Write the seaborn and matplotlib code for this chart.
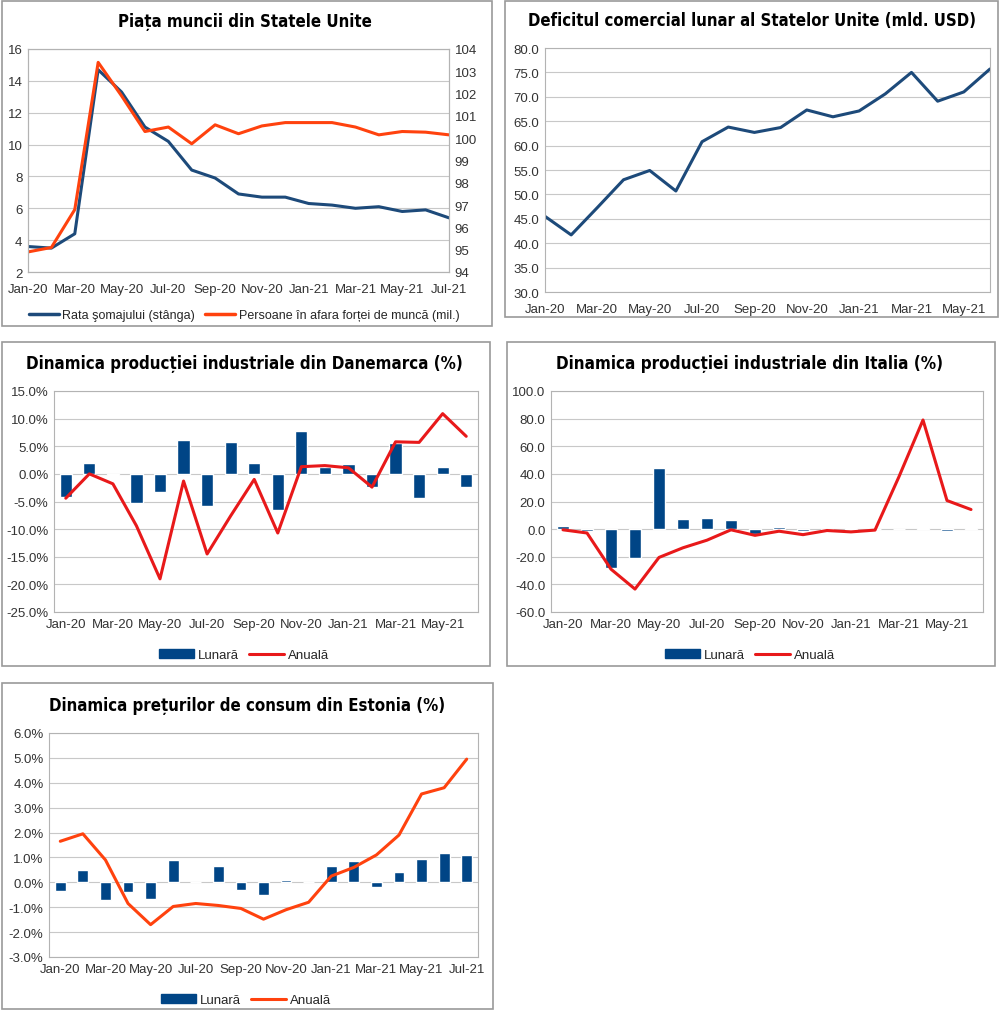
"""
Five small economic charts (US labour market, US trade deficit, industrial
production in Denmark and Italy, consumer prices in Estonia).
"""

import matplotlib

matplotlib.use("Agg")
import matplotlib.pyplot as plt
import numpy as np
import pandas as pd
import seaborn as sns
from matplotlib.lines import Line2D
from matplotlib.patches import Patch, Rectangle
from matplotlib.ticker import FuncFormatter, MultipleLocator

# ---- data -----------------------------------------------------------------
months_19 = ["Jan-20", "Feb-20", "Mar-20", "Apr-20", "May-20", "Jun-20", "Jul-20",
             "Aug-20", "Sep-20", "Oct-20", "Nov-20", "Dec-20", "Jan-21", "Feb-21",
             "Mar-21", "Apr-21", "May-21", "Jun-21", "Jul-21"]
months_18 = months_19[:18]

# US labour market
us_unemployment = [3.6, 3.5, 4.4, 14.7, 13.3, 11.1, 10.2, 8.4, 7.9, 6.9, 6.7, 6.7,
                   6.3, 6.2, 6.0, 6.1, 5.8, 5.9, 5.4]
us_not_in_labor = [94.9, 95.1, 96.8, 103.4, 101.9, 100.3, 100.5, 99.75, 100.6, 100.2,
                   100.55, 100.7, 100.7, 100.7, 100.5, 100.15, 100.3, 100.27, 100.15]

# US trade deficit (bn USD)
us_trade_deficit = [45.5, 41.7, 47.3, 53.0, 54.9, 50.7, 60.8, 63.8, 62.7, 63.7, 67.3,
                    65.9, 67.1, 70.6, 75.0, 69.1, 71.0, 75.7]

# Denmark industrial production (%)
dk_monthly = [-4.1, 2.0, -0.2, -5.2, -3.2, 6.2, -5.9, 5.7, 1.9, -6.6, 7.8, 1.2,
              1.8, -2.4, 5.5, -4.3, 1.2, -2.3]
dk_annual = [-4.4, 0.0, -1.8, -9.4, -19.0, -1.3, -14.5, -7.6, -1.0, -10.7, 1.3, 1.5,
             1.1, -2.4, 5.8, 5.7, 10.9, 6.8]

# Italy industrial production (%)
it_monthly = [2.4, -1.2, -28.0, -21.0, 44.6, 7.5, 8.1, 6.9, -3.5, 1.3, -1.0, -0.3,
              1.0, -0.2, 0.1, 1.0, -1.5, 1.0]
it_annual = [-0.5, -2.8, -29.0, -43.4, -20.5, -13.5, -8.0, -0.5, -4.5, -1.5, -4.0,
             -1.0, -2.0, -0.7, 38.0, 79.0, 20.7, 14.2]

# Estonia consumer prices (%)
ee_monthly = [-0.36, 0.5, -0.7, -0.4, -0.65, 0.9, 0.0, 0.65, -0.3, -0.5, 0.1, 0.02,
              0.65, 0.85, -0.2, 0.4, 0.95, 1.18, 1.1]
ee_annual = [1.65, 1.95, 0.9, -0.85, -1.7, -0.97, -0.85, -0.93, -1.05, -1.48, -1.1,
             -0.8, 0.25, 0.6, 1.1, 1.9, 3.55, 3.8, 4.95]

# ---- style ----------------------------------------------------------------
sns.set_theme(style="white")
plt.rcParams["font.family"] = ["Liberation Sans", "DejaVu Sans"]

NAVY = "#004586"
LINE_BLUE = "#1d4a7a"
ORANGE = "#ff420e"
RED = "#e8191a"
GRID = "#c8c8c8"
FRAME = "#b3b3b3"
TICK_COLOR = "#333333"

fig = plt.figure(figsize=(10, 10.12), dpi=100)

W, H = 1000, 1012


def fig_rect(x0, y0, x1, y1):
    """Pixel box (top-left origin) -> figure fraction [l, b, w, h]."""
    return [x0 / W, 1 - y1 / H, (x1 - x0) / W, (y1 - y0) / H]


def panel_frame(x0, y0, x1, y1):
    fig.patches.append(Rectangle((x0 / W, 1 - y1 / H), (x1 - x0) / W, (y1 - y0) / H,
                                 transform=fig.transFigure, fill=False,
                                 edgecolor="#9a9a9a", lw=1.2))


def panel_title(text, cx, cy, width_px):
    # condensed bold title, shrunk until it fits the width of the original
    t = fig.text(cx / W, 1 - cy / H, text, ha="center", va="center", fontsize=17,
                 fontweight="bold", family="DejaVu Sans", fontstretch="condensed",
                 color="black")
    r = fig.canvas.get_renderer()
    w = t.get_window_extent(r).width
    if w > width_px:
        t.set_fontsize(17 * width_px / w)


def style_axes(ax, ylo, yhi, step):
    ax.set_ylim(ylo, yhi)
    ax.yaxis.set_major_locator(MultipleLocator(step))
    ax.grid(axis="y", color=GRID, lw=0.8)
    ax.grid(axis="x", visible=False)
    ax.set_axisbelow(True)
    for s in ax.spines.values():
        s.set_color(FRAME)
        s.set_linewidth(0.8)
    ax.tick_params(axis="both", labelsize=9.5, colors=TICK_COLOR, length=0, pad=4)
    ax.tick_params(axis="x", length=4, color=FRAME, direction="out")
    ax.set_xlabel("")
    ax.set_ylabel("")


def month_ticks(ax, labels, n_shown):
    pos = np.arange(0, n_shown, 2)
    ax.set_xticks(pos)
    ax.set_xticklabels([labels[i] for i in pos])


def bar_legend(cx, cy, line_color):
    handles = [Patch(facecolor=NAVY, edgecolor=NAVY),
               Line2D([0], [0], color=line_color, lw=2.2)]
    fig.legend(handles, ["Lunară", "Anuală"], loc="center",
               bbox_to_anchor=(cx / W, 1 - cy / H), ncol=2, frameon=False,
               fontsize=9.5, handlelength=2.6, handleheight=0.6, columnspacing=0.8,
               handletextpad=0.3)


def pct(v, _):
    return f"{v:.1f}%"


def one_dec(v, _):
    return f"{v:.1f}"


# ---- panel 1: US labour market -------------------------------------------
panel_frame(2, 2, 492, 327)
panel_title("Piața muncii din Statele Unite", 245, 22, 254)
df1 = pd.DataFrame({"pos": np.arange(19), "rate": us_unemployment,
                    "out": us_not_in_labor})
ax1 = fig.add_axes(fig_rect(28, 50, 449, 273))
sns.lineplot(data=df1, x="pos", y="rate", ax=ax1, color=LINE_BLUE, lw=2.2)
style_axes(ax1, 2, 16, 2)
ax1.set_xlim(0, 18)
month_ticks(ax1, months_19, 19)
ax1b = ax1.twinx()
sns.lineplot(data=df1, x="pos", y="out", ax=ax1b, color=ORANGE, lw=2.2)
ax1b.set_ylim(94, 104)
ax1b.yaxis.set_major_locator(MultipleLocator(1))
ax1b.tick_params(axis="y", labelsize=9.5, colors=TICK_COLOR, length=0, pad=4)
ax1b.set_ylabel("")
for s in ax1b.spines.values():
    s.set_color(FRAME)
    s.set_linewidth(0.8)
fig.legend([Line2D([0], [0], color=LINE_BLUE, lw=2.5), Line2D([0], [0], color=ORANGE, lw=2.5)],
           ["Rata şomajului (stânga)", "Persoane în afara forței de muncă (mil.)"],
           loc="center", bbox_to_anchor=(244 / W, 1 - 316 / H), ncol=2, frameon=False,
           fontsize=9, handlelength=2.4, columnspacing=0.8, handletextpad=0.3)

# ---- panel 2: US trade deficit -------------------------------------------
panel_frame(505, 2, 998, 318)
panel_title("Deficitul comercial lunar al Statelor Unite (mld. USD)", 752, 21, 448)
df2 = pd.DataFrame({"pos": np.arange(18), "deficit": us_trade_deficit})
ax2 = fig.add_axes(fig_rect(545, 49, 990, 293))
sns.lineplot(data=df2, x="pos", y="deficit", ax=ax2, color=LINE_BLUE, lw=2.2)
style_axes(ax2, 30, 80, 5)
ax2.set_xlim(0, 17)
month_ticks(ax2, months_18, 18)
ax2.yaxis.set_major_formatter(FuncFormatter(one_dec))

# ---- panel 3: Denmark ----------------------------------------------------
panel_frame(2, 343, 490, 667)
panel_title("Dinamica producției industriale din Danemarca (%)", 244, 364, 438)
df3 = pd.DataFrame({"pos": np.arange(18), "monthly": dk_monthly, "annual": dk_annual})
ax3 = fig.add_axes(fig_rect(54, 392, 478, 613))
sns.barplot(data=df3, x="pos", y="monthly", ax=ax3, color=NAVY, width=0.52,
            native_scale=True, saturation=1)
sns.lineplot(data=df3, x="pos", y="annual", ax=ax3, color=RED, lw=2.2)
style_axes(ax3, -25, 15, 5)
ax3.set_xlim(-0.5, 17.5)
month_ticks(ax3, months_18, 18)
ax3.tick_params(axis="x", length=0)
ax3.yaxis.set_major_formatter(FuncFormatter(pct))
bar_legend(244, 656, RED)

# ---- panel 4: Italy ------------------------------------------------------
panel_frame(507, 343, 995, 667)
panel_title("Dinamica producției industriale din Italia (%)", 750, 364, 387)
df4 = pd.DataFrame({"pos": np.arange(18), "monthly": it_monthly, "annual": it_annual})
ax4 = fig.add_axes(fig_rect(551, 392, 983, 613))
sns.barplot(data=df4, x="pos", y="monthly", ax=ax4, color=NAVY, width=0.5,
            native_scale=True, saturation=1)
sns.lineplot(data=df4, x="pos", y="annual", ax=ax4, color=RED, lw=2.2)
style_axes(ax4, -60, 100, 20)
ax4.set_xlim(-0.5, 17.5)
month_ticks(ax4, months_18, 18)
ax4.tick_params(axis="x", length=0)
ax4.yaxis.set_major_formatter(FuncFormatter(one_dec))
bar_legend(750, 656, RED)

# ---- panel 5: Estonia ----------------------------------------------------
panel_frame(2, 684, 493, 1010)
panel_title("Dinamica prețurilor de consum din Estonia (%)", 247, 706, 397)
df5 = pd.DataFrame({"pos": np.arange(19), "monthly": ee_monthly, "annual": ee_annual})
ax5 = fig.add_axes(fig_rect(49, 734, 478, 958))
sns.barplot(data=df5, x="pos", y="monthly", ax=ax5, color=NAVY, width=0.48,
            native_scale=True, saturation=1)
sns.lineplot(data=df5, x="pos", y="annual", ax=ax5, color=ORANGE, lw=2.2)
style_axes(ax5, -3, 6, 1)
ax5.set_xlim(-0.5, 18.5)
month_ticks(ax5, months_19, 19)
ax5.tick_params(axis="x", length=0)
ax5.yaxis.set_major_formatter(FuncFormatter(pct))
bar_legend(246, 1001, ORANGE)

fig.savefig("out.png", dpi=100)
plt.close(fig)
